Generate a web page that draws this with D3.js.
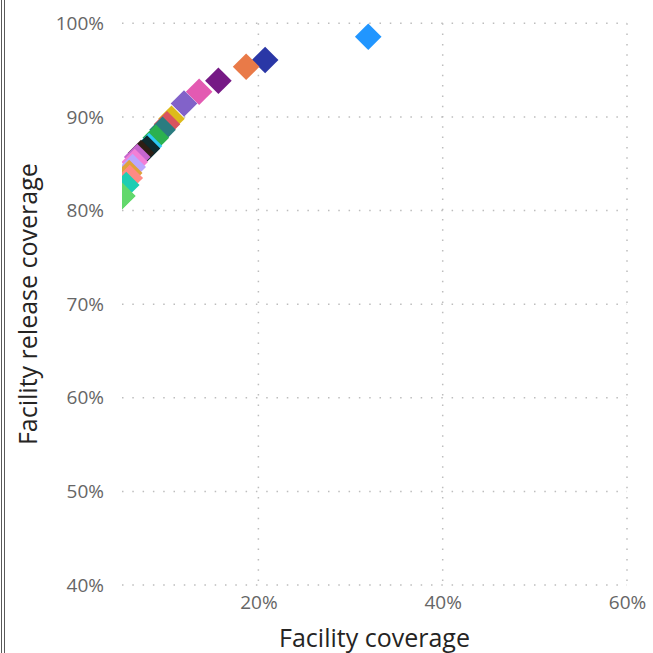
<!DOCTYPE html>
<html>
<head>
<meta charset="utf-8">
<script src="https://cdn.jsdelivr.net/npm/d3@7"></script>
<style>
  html, body { margin: 0; padding: 0; background: #fff; }
  svg { display: block; }
  text { font-family: "Open Sans", "Segoe UI", sans-serif; }
</style>
</head>
<body>
<svg id="chart" width="653" height="653"></svg>
<script>
// ---- data ----
const categories = ["P01","P02","P03","P04","P05","P06","P07","P08","P09","P10",
                    "P11","P12","P13","P14","P15","P16","P17","P18","P19","P20","P21"];
const facilityCoverage = [31.92, 20.73, 18.67, 15.66, 13.57, 11.93, 10.57, 10.08, 9.60, 8.87,
                          8.13, 7.91, 7.26, 6.85, 6.58, 6.36, 5.98, 6.04, 5.66, 5.22, 5.22];
const releaseCoverage  = [98.57, 96.08, 95.36, 93.87, 92.69, 91.43, 89.81, 89.21, 88.62, 87.77,
                          86.89, 86.62, 86.14, 85.72, 85.18, 84.65, 84.01, 83.47, 82.72, 81.55, 81.55];
const colors = ["#2196FF","#2A37A6","#E97A48","#761A85","#E35AB2","#8262C9","#DDBA1A","#D9545E","#2A7C80","#2BB14F",
                "#2CC9F3","#0E2B2E","#2E1E14","#C566CE","#F27FD6","#BBA6FF","#E0A23A","#FF8A84","#1ECDB3","#62D86C","#62D86C"];
const xTicks = [20, 40, 60];
const yTicks = [40, 50, 60, 70, 80, 90, 100];
const xTitle = "Facility coverage";
const yTitle = "Facility release coverage";

// ---- layout ----
const svg = d3.select("#chart");
const plot = { left: 122, right: 627, top: 23.3, bottom: 585 };

const x = d3.scaleLinear().domain([5.2, 60]).range([plot.left, plot.right]);
const y = d3.scaleLinear().domain([40, 100]).range([plot.bottom, plot.top]);

// left container border
svg.append("line").attr("x1", 1.5).attr("x2", 1.5).attr("y1", 0).attr("y2", 653)
  .attr("stroke", "#5a5a5a").attr("stroke-width", 1);
svg.append("line").attr("x1", 4.5).attr("x2", 4.5).attr("y1", 0).attr("y2", 653)
  .attr("stroke", "#5a5a5a").attr("stroke-width", 1);

// gridlines
const grid = svg.append("g");
grid.selectAll("line.h").data(yTicks).join("line")
  .attr("class", "h")
  .attr("x1", plot.left).attr("x2", plot.right)
  .attr("y1", d => y(d)).attr("y2", d => y(d))
  .attr("stroke", "#bdbdbd").attr("stroke-width", 1.5)
  .attr("stroke-dasharray", "1.5,8.8");
grid.selectAll("line.v").data(xTicks).join("line")
  .attr("class", "v")
  .attr("x1", d => x(d)).attr("x2", d => x(d))
  .attr("y1", plot.top).attr("y2", plot.bottom)
  .attr("stroke", "#bdbdbd").attr("stroke-width", 1.5)
  .attr("stroke-dasharray", "1.5,8.8");

// axes (labels only)
const yAxis = d3.axisLeft(y).tickValues(yTicks).tickFormat(d => d + "%").tickSize(0).tickPadding(18);
const gy = svg.append("g").attr("transform", `translate(${plot.left},0)`).call(yAxis);
gy.select(".domain").remove();
gy.selectAll("text").attr("font-size", 19).attr("fill", "#666");

const xAxis = d3.axisBottom(x).tickValues(xTicks).tickFormat(d => d + "%").tickSize(0).tickPadding(11);
const gx = svg.append("g").attr("transform", `translate(0,${plot.bottom})`).call(xAxis);
gx.select(".domain").remove();
gx.selectAll("text").attr("font-size", 19).attr("fill", "#666");

// titles
svg.append("text")
  .attr("x", (plot.left + plot.right) / 2).attr("y", 647)
  .attr("text-anchor", "middle").attr("font-size", 25).attr("fill", "#252423")
  .text(xTitle);
svg.append("text")
  .attr("transform", `translate(37,${(plot.top + plot.bottom) / 2}) rotate(-90)`)
  .attr("text-anchor", "middle").attr("font-size", 25).attr("fill", "#252423")
  .text(yTitle);

// clip
svg.append("clipPath").attr("id", "clip").append("rect")
  .attr("x", plot.left).attr("y", plot.top - 20)
  .attr("width", plot.right - plot.left + 20).attr("height", plot.bottom - plot.top + 20);

const pts = categories.map((c, i) => ({ c, x: facilityCoverage[i], y: releaseCoverage[i], color: colors[i] }));
const diamond = d3.symbol().type(d3.symbolSquare).size(354);
svg.append("g").attr("clip-path", "url(#clip)")
  .selectAll("path").data(pts).join("path")
  .attr("d", diamond)
  .attr("transform", d => `translate(${x(d.x)},${y(d.y)}) rotate(45)`)
  .attr("fill", d => d.color);
</script>
</body>
</html>
